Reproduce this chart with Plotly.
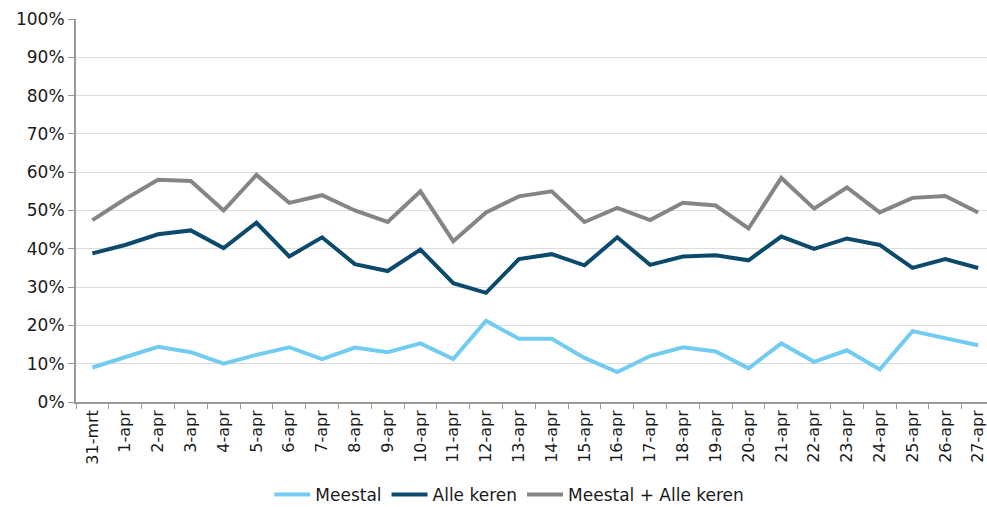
import plotly.graph_objects as go

dates = ["31-mrt"] + [f"{i}-apr" for i in range(1, 28)]

meestal = [9.0, 11.7, 14.4, 13.0, 10.0, 12.3, 14.3, 11.2, 14.2, 13.0, 15.3, 11.2, 21.2, 16.5,
           16.5, 11.5, 7.8, 12.0, 14.3, 13.2, 8.8, 15.3, 10.5, 13.5, 8.5, 18.5, 16.6, 14.8]
alle_keren = [38.8, 41.0, 43.8, 44.8, 40.2, 46.8, 38.0, 43.0, 36.0, 34.2, 39.8, 31.0, 28.5, 37.3,
              38.6, 35.7, 43.0, 35.8, 38.0, 38.3, 37.0, 43.2, 40.0, 42.7, 41.0, 35.0, 37.3, 35.0]
beide = [47.5, 53.0, 58.0, 57.7, 50.0, 59.3, 52.0, 54.0, 50.0, 47.0, 55.0, 42.0, 49.5, 53.7,
         55.0, 47.0, 50.7, 47.5, 52.0, 51.3, 45.3, 58.5, 50.5, 56.0, 49.5, 53.3, 53.8, 49.5]

yticks = [0, 10, 20, 30, 40, 50, 60, 70, 80, 90, 100]
ytick_labels = [f"{v}%" for v in yticks]

series = [
    ("Meestal", meestal, "#72CBF0"),
    ("Alle keren", alle_keren, "#0C4A6C"),
    ("Meestal + Alle keren", beide, "#858585"),
]

fig = go.Figure()
for name, vals, color in series:
    fig.add_trace(go.Scatter(x=dates, y=vals, name=name, mode="lines",
                             line=dict(color=color, width=4)))

family = "DejaVu Sans, Verdana, sans-serif"
xfont = dict(family=family, size=16, color="#1a1a1a")
yfont = dict(family=family, size=17, color="#1a1a1a")
lfont = dict(family=family, size=17, color="#1a1a1a")

fig.update_layout(
    width=987, height=507,
    margin=dict(l=76, r=0, t=19, b=105),
    paper_bgcolor="white", plot_bgcolor="white",
    font=xfont,
    showlegend=True,
    legend=dict(orientation="h", xref="container", yref="container",
                x=0.516, xanchor="center", y=0.024, yanchor="middle",
                font=lfont, itemwidth=36, tracegroupgap=0),
    xaxis=dict(type="category", range=[-0.5, 27.27], tickangle=-90,
               ticks="outside", tickson="boundaries", ticklen=5, tickcolor="#999999",
               showline=True, linecolor="#999999", linewidth=1.5,
               showgrid=False, tickfont=xfont),
    yaxis=dict(range=[0, 100], tickvals=yticks, ticktext=ytick_labels,
               ticks="outside", ticklen=6, tickcolor="#999999",
               showline=True, linecolor="#999999", linewidth=2,
               showgrid=True, gridcolor="#DCDCDC", gridwidth=1,
               zeroline=False, tickfont=yfont),
)

fig.write_html("out.html")
